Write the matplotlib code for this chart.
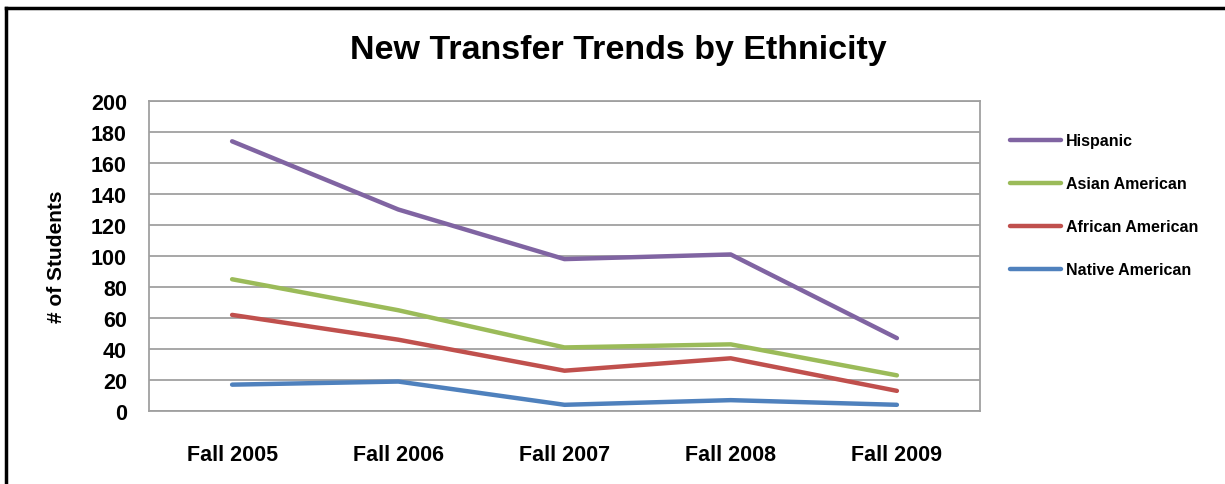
import matplotlib.pyplot as plt
from matplotlib.lines import Line2D

# chart data
terms = ["Fall 2005", "Fall 2006", "Fall 2007", "Fall 2008", "Fall 2009"]
hispanic = [174, 130, 98, 101, 47]
asian_american = [85, 65, 41, 43, 23]
african_american = [62, 46, 26, 34, 13]
native_american = [17, 19, 4, 7, 4]

series = [
    ("Hispanic", hispanic, "#8064A2"),
    ("Asian American", asian_american, "#9BBB59"),
    ("African American", african_american, "#C0504D"),
    ("Native American", native_american, "#4F81BD"),
]

plt.rcParams["font.family"] = ["Liberation Sans Narrow", "Liberation Sans", "DejaVu Sans"]
plt.rcParams["font.weight"] = "bold"

fig = plt.figure(figsize=(12.25, 4.85), dpi=100)
ax = fig.add_axes([149 / 1225, 1 - 412 / 485, (980 - 149) / 1225, (412 - 102) / 485])

x = range(len(terms))
for name, vals, color in series:
    ax.plot(x, vals, color=color, lw=3.2, label=name, solid_capstyle="round")

ax.set_xlim(-0.5, len(terms) - 0.5)
ax.set_ylim(0, 200)
ax.set_yticks(range(0, 201, 20))
ax.set_xticks(list(x))
ax.set_xticklabels(terms)
ax.yaxis.grid(True, color="#A0A0A0", lw=1.3)
ax.set_axisbelow(True)
ax.tick_params(length=0, labelsize=15.5)
ax.tick_params(axis="x", pad=24)
ax.tick_params(axis="y", pad=16)
for sp in ax.spines.values():
    sp.set_color("#A0A0A0")
    sp.set_linewidth(1.3)

ax.set_ylabel("# of Students", fontsize=15, fontweight="bold", labelpad=18)
fig.text(618 / 1225, 1 - 50 / 485, "New Transfer Trends by Ethnicity",
         ha="center", va="center", fontsize=24.5, fontweight="bold")

ax.legend(loc="upper left", bbox_to_anchor=(996 / 1225, 1 - 120 / 485),
          bbox_transform=fig.transFigure, frameon=False, fontsize=11.5,
          handlelength=3.2, handletextpad=0.3, labelspacing=1.75)

# outer chart border (only top and left edges visible)
fig.add_artist(Line2D([6 / 1225, 6 / 1225], [0, 1 - 9 / 485], color="black", lw=2.5,
                      transform=fig.transFigure))
fig.add_artist(Line2D([6 / 1225, 1], [1 - 9 / 485, 1 - 9 / 485], color="black", lw=2.5,
                      transform=fig.transFigure))

fig.savefig("out.png", dpi=100)
